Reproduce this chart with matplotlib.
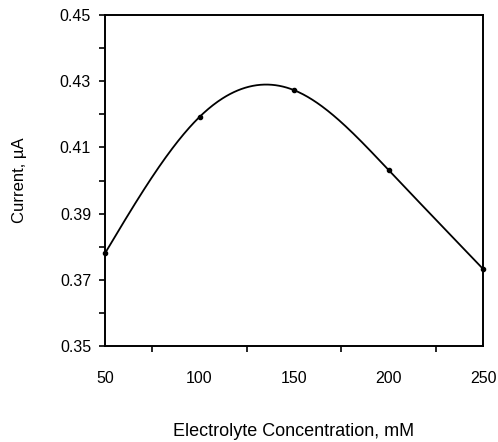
import numpy as np
import matplotlib
matplotlib.use("Agg")
import matplotlib.pyplot as plt
from matplotlib.ticker import FixedLocator

# Measured current vs. electrolyte concentration
concentration_mM = [50, 100, 150, 200, 250]
current_uA = [0.378, 0.4192, 0.4273, 0.4032, 0.3733]

x_tick_labels = [50, 100, 150, 200, 250]
y_tick_labels = [0.35, 0.37, 0.39, 0.41, 0.43, 0.45]


def natural_cubic_spline(x, y, xs):
    x = np.asarray(x, float)
    y = np.asarray(y, float)
    n = len(x)
    h = np.diff(x)
    A = np.zeros((n, n))
    b = np.zeros(n)
    A[0, 0] = A[-1, -1] = 1.0
    for i in range(1, n - 1):
        A[i, i - 1] = h[i - 1]
        A[i, i] = 2 * (h[i - 1] + h[i])
        A[i, i + 1] = h[i]
        b[i] = 3 * ((y[i + 1] - y[i]) / h[i] - (y[i] - y[i - 1]) / h[i - 1])
    c = np.linalg.solve(A, b)
    ys = np.empty_like(xs)
    for k, xv in enumerate(xs):
        i = min(max(np.searchsorted(x, xv) - 1, 0), n - 2)
        dx = xv - x[i]
        bi = (y[i + 1] - y[i]) / h[i] - h[i] * (2 * c[i] + c[i + 1]) / 3
        di = (c[i + 1] - c[i]) / (3 * h[i])
        ys[k] = y[i] + bi * dx + c[i] * dx ** 2 + di * dx ** 3
    return ys


plt.rcParams['font.family'] = ['Liberation Sans', 'DejaVu Sans']

fig = plt.figure(figsize=(4.98, 4.42), dpi=100)
ax = fig.add_axes([105 / 498, 1 - 346 / 442, 378 / 498, 331 / 442])

xs = np.linspace(50, 250, 400)
ax.plot(xs, natural_cubic_spline(concentration_mM, current_uA, xs),
        color='black', lw=1.3, clip_on=False)
ax.plot(concentration_mM, current_uA, 'o', color='black', ms=3, clip_on=False)

ax.set_xlim(50, 250)
ax.set_ylim(0.35, 0.45)
ax.xaxis.set_major_locator(FixedLocator(x_tick_labels))
ax.xaxis.set_minor_locator(FixedLocator([75, 100, 125, 150, 175, 200, 225]))
ax.yaxis.set_major_locator(FixedLocator(y_tick_labels))
ax.yaxis.set_minor_locator(FixedLocator([0.36, 0.38, 0.40, 0.42, 0.44]))
ax.set_yticklabels([f"{v:.2f}" for v in y_tick_labels])
ax.set_xticklabels([str(v) for v in x_tick_labels])

ax.tick_params(axis='x', which='major', length=0, pad=18, labelsize=11.5)
ax.tick_params(axis='x', which='minor', length=4, width=1.2, direction='out')
ax.tick_params(axis='y', which='both', length=4, width=1.2, direction='out',
               pad=6, labelsize=11.5)

for s in ax.spines.values():
    s.set_linewidth(1.4)

ax.set_xlabel("Electrolyte Concentration, mM", fontsize=13, labelpad=27)
ax.set_ylabel("Current, µA", fontsize=12, labelpad=24)

fig.savefig("out.png", dpi=100)
